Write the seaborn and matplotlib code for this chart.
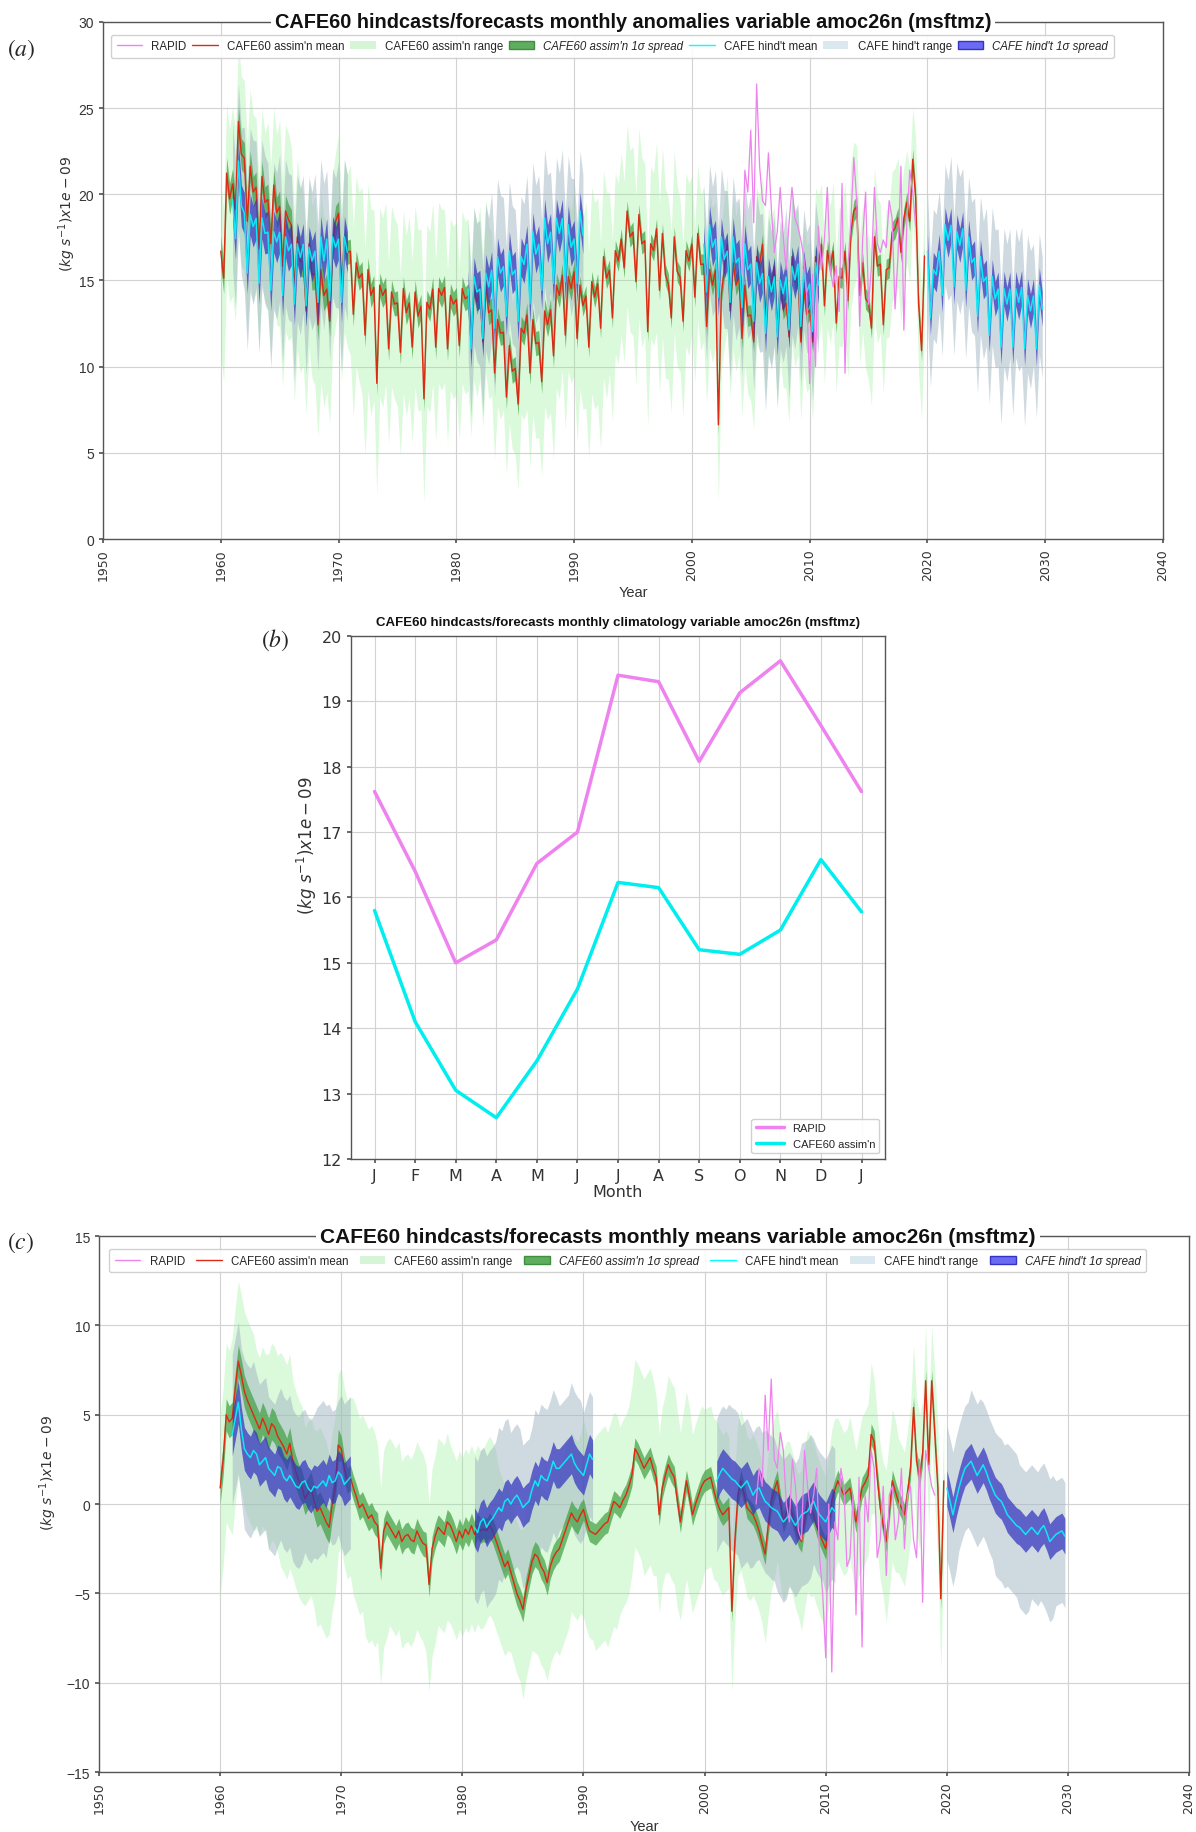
import numpy as np
import pandas as pd
import matplotlib
matplotlib.use("Agg")
import matplotlib.pyplot as plt
import seaborn as sns
from matplotlib.patches import Patch
from matplotlib.lines import Line2D

# ---- monthly climatology (panel b) ----
months = ["J", "F", "M", "A", "M", "J", "J", "A", "S", "O", "N", "D", "J"]
rapid_clim = [17.62, 16.40, 15.00, 15.35, 16.52, 17.00, 19.40, 19.30, 18.08, 19.13, 19.62, 18.63, 17.62]
cafe_clim = [15.80, 14.10, 13.05, 12.63, 13.50, 14.60, 16.23, 16.15, 15.20, 15.13, 15.50, 16.58, 15.78]

# ---- CAFE60 assimilation, quarterly anomalies (Jan, Apr, Jul, Oct) from 1960 ----
assim_start = 1960
assim_anom = [
    0.9, 2.5, 5.0, 4.6,   4.8, 6.5, 8.0, 7.2,   6.3, 5.8, 5.4, 5.0,   4.6, 4.2, 4.8, 4.4,   3.9, 4.5, 4.3, 3.8,
    3.5, 3.2, 2.8, 3.4,   2.4, 1.8, 1.3, 1.0,   0.3, 0.6, 0.9, 0.2,   -0.4, -0.2, -0.6, -1.0,   -1.3, 0.0, 0.9, 3.3,
    3.1, 2.0, 1.3, 1.5,   0.9, 0.4, -0.2, 0.0,   -0.4, -0.8, -0.6, -1.0,   -1.2, -3.6, -1.5, -1.0,   -1.3, -1.6, -1.9, -1.5,
    -2.1, -1.8, -1.7, -2.0,   -2.1, -1.5, -1.9, -2.2,   -2.3, -4.5, -2.5, -1.8,   -1.3, -1.5, -1.7, -1.0,   -1.2, -1.6, -2.1, -1.5,
    -1.9, -1.4, -1.7, -1.2,   -1.7, -1.2, -1.5, -1.4,   -1.5, -1.2, -1.5, -2.0,   -2.5, -3.0, -3.5, -3.2,   -3.8, -4.4, -5.0, -5.4,
    -5.9, -4.8, -4.0, -3.2,   -2.8, -3.0, -3.5, -3.8,   -4.4, -3.5, -3.0, -2.7,   -2.5, -2.0, -1.5, -1.0,   -0.5, -0.8, -1.0, -0.6,
    -0.3, -1.0, -1.5, -1.6,   -1.7, -1.5, -1.3, -1.1,   -1.0, -0.4, 0.15, 0.0,   -0.2, 0.2, 0.5, 1.0,   1.6, 3.1, 2.8, 2.4,
    2.0, 2.3, 2.6, 2.0,   1.5, -0.6, 0.9, 1.6,   2.2, 1.8, 1.5, 0.2,   -1.0, 0.2, 1.3, 0.4,   -0.6, 0.0, 0.5, 1.0,
    1.3, 1.4, 1.5, 0.8,   0.15, -0.3, -0.6, -0.4,   -0.2, -6.0, -2.0, 0.5,   1.3, 0.6, -0.2, -0.4,   -0.6, -1.0, -1.5, -2.2,
    -2.8, -1.2, 0.15, 0.8,   1.3, 0.1, -1.0, -0.5,   0.0, -0.6, -1.3, -1.8,   -2.1, -0.9, 0.15, -0.2,   -0.6, -1.2, -1.7, -2.1,
    -2.5, -1.2, 0.15, 0.8,   1.3, 0.9, 0.5, 0.7,   0.9, -0.1, -1.0, 0.0,   0.9, 1.2, 1.6, 3.9,   3.5, 1.5, -0.2, -1.2,
    -2.1, -0.4, 1.3, 0.7,   0.15, -0.2, -0.6, 0.6,   2.0, 5.4, 2.4, 1.5,   2.8, 6.9, 2.2, 6.9,   4.0, 1.0, -5.3, 1.3,
]
# yearly range above / below the ensemble mean
assim_rng_hi = [4.0, 4.5, 4.5, 4.0, 4.5, 5.0, 4.5, 4.0, 4.5, 4.0,
                4.5, 5.0, 5.0, 4.5, 5.0, 4.5, 5.0, 4.5, 5.0, 4.5,
                4.5, 4.5, 5.0, 4.5, 4.0, 4.5, 4.5, 5.0, 4.5, 4.5,
                5.0, 5.5, 5.0, 4.5, 5.0, 5.0, 4.5, 5.0, 5.0, 4.5,
                4.0, 4.5, 4.0, 4.0, 4.5, 4.0, 4.0, 3.5, 4.0, 4.0,
                4.0, 3.5, 4.0, 4.0, 3.5, 4.0, 3.5, 3.5, 3.0, 3.5]
assim_rng_lo = [6.0, 6.5, 6.5, 6.0, 6.5, 7.0, 6.5, 6.0, 6.5, 6.0,
                5.5, 6.0, 7.0, 6.5, 5.5, 6.0, 5.5, 6.0, 5.5, 5.5,
                5.5, 5.5, 5.0, 5.0, 4.5, 5.0, 5.5, 5.5, 6.0, 5.5,
                6.0, 6.5, 7.0, 6.0, 5.5, 6.0, 5.5, 6.0, 5.5, 5.5,
                5.0, 4.5, 4.5, 5.0, 4.5, 5.0, 4.5, 4.5, 5.0, 4.5,
                4.5, 4.5, 4.0, 4.5, 4.0, 4.5, 4.0, 4.0, 3.5, 4.0]
assim_sd = [0.9, 0.7, 0.7, 0.6, 0.6, 0.6]  # one value per decade

# ---- CAFE hindcasts, quarterly anomalies, 10-year segments ----
hind_starts = [1961, 1981, 2001, 2020]
hind_anom = [
    [3.9, 4.8, 5.7, 4.2, 3.1, 2.8, 2.6, 3.0, 2.8, 2.2, 2.4, 2.6, 2.0, 1.8, 1.6, 2.1, 2.0, 1.5, 1.3, 1.6,
     1.3, 1.0, 0.9, 1.2, 1.3, 0.9, 0.7, 1.0, 0.9, 1.1, 1.3, 1.0, 1.6, 1.2, 1.3, 1.8, 1.6, 1.1, 1.3, 1.5],
    [-1.3, -1.6, -1.0, -0.8, -1.3, -1.0, -0.8, -0.5, -0.2, -0.4, 0.15, 0.3, 0.0, 0.3, 0.5, 0.2, -0.2, 0.0, 0.15, 0.8,
     1.3, 1.0, 1.6, 1.4, 1.3, 1.8, 2.4, 2.0, 2.0, 2.2, 2.4, 2.6, 2.8, 2.3, 2.0, 1.8, 1.6, 2.2, 2.8, 2.5],
    [1.3, 1.7, 2.0, 1.8, 1.6, 1.4, 1.3, 1.1, 0.9, 1.1, 1.3, 0.9, 0.5, 0.8, 0.9, 0.5, 0.15, 0.0, -0.2, -0.3,
     -0.4, -0.7, -1.0, -0.8, -0.6, -0.9, -1.2, -0.9, -0.6, -0.5, -0.4, -0.1, 0.15, -0.3, -0.6, -0.8, -1.0, -0.6, -0.2, -0.4],
    [0.9, 0.2, -0.6, 0.2, 0.9, 1.5, 2.0, 2.2, 2.4, 2.0, 1.6, 1.9, 2.2, 1.8, 1.3, 0.9, 0.5, 0.3, 0.15, -0.2,
     -0.6, -0.8, -1.0, -1.2, -1.3, -1.5, -1.7, -1.5, -1.3, -1.5, -1.7, -1.4, -1.2, -1.6, -2.1, -1.9, -1.7, -1.6, -1.5, -1.8],
]
hind_rng_hi = [[4.5, 5.0, 4.5, 4.0, 4.5, 4.0, 4.0, 4.5, 4.0, 4.5],
               [4.0, 4.0, 4.5, 4.0, 3.5, 4.0, 4.0, 3.5, 4.0, 3.5],
               [3.5, 4.0, 3.5, 3.5, 4.0, 3.5, 3.5, 4.0, 3.5, 3.5],
               [3.5, 3.5, 4.0, 3.5, 3.5, 4.0, 3.5, 3.5, 3.5, 3.0]]
hind_rng_lo = [[4.0, 4.5, 4.0, 4.5, 4.0, 4.5, 4.0, 4.0, 3.5, 4.0],
               [4.0, 4.5, 4.0, 4.0, 4.5, 4.0, 4.0, 3.5, 4.0, 3.5],
               [4.0, 4.0, 4.5, 4.0, 4.0, 4.5, 4.0, 4.0, 3.5, 4.0],
               [4.0, 3.5, 4.0, 4.0, 4.5, 4.0, 4.5, 4.0, 4.5, 4.0]]
hind_sd = [1.2, 1.1, 1.1, 1.0]

# ---- RAPID observations, quarterly anomalies from 2004.25 ----
rapid_start = 2004.25
rapid_anom = [0.0, 2.0, 1.0,
              6.1, 3.0, 7.0, 2.5,   2.0, 4.0, 3.0, 0.0,   -1.0, 2.5, 1.0, -1.5,   -2.0, 3.0, 1.0, -0.5,
              0.5, 2.0, -3.0, -5.0,   -8.6, 0.0, -9.4, -1.0,   -2.0, 2.0, 1.0, -3.5,   -3.0, 0.5, -6.2, 1.5,
              -8.0, 0.5, -1.0, 3.0,   2.0, -3.0, -2.0, 1.0,   -4.0, 0.5, 1.0, -2.0,   -1.0, 2.0, -2.5, 0.5,
              1.0, -2.0, -3.0, 2.5,   -5.5, 3.0, 2.0, 1.0,   0.5]

# ---- colours ----
c_rapid = "violet"
c_amean = "#dd2a12"
c_arng = "lightgreen"
c_asd = "#3f9f3f"
c_hmean = "cyan"
c_hrng = "#9fb5c3"
c_hsd = "#2f2fbf"

sns.set_theme(style="whitegrid", rc={"grid.color": "#d2d2d2", "grid.linewidth": 0.8,
                                     "axes.edgecolor": "#555555", "axes.linewidth": 1.0,
                                     "xtick.bottom": True, "ytick.left": True})
plt.rcParams['font.family'] = ['Liberation Sans', 'DejaVu Sans']
plt.rcParams['mathtext.fontset'] = 'dejavusans'


def clim_at(t, clim):
    idx = np.rint((t - np.floor(t)) * 12).astype(int) % 12
    return np.asarray(clim)[idx]


def draw_series(ax, with_clim):
    # assimilation
    ta = assim_start + 0.25 * np.arange(len(assim_anom))
    ma = np.array(assim_anom)
    if with_clim:
        ma = ma + clim_at(ta, cafe_clim)
    ax.fill_between(ta, ma - np.repeat(assim_rng_lo, 4), ma + np.repeat(assim_rng_hi, 4),
                    color=c_arng, alpha=0.32, lw=0, zorder=1)
    # hindcast ranges
    hsegs = []
    for k, s in enumerate(hind_starts):
        th = s + 0.25 * np.arange(len(hind_anom[k]))
        mh = np.array(hind_anom[k])
        if with_clim:
            mh = mh + clim_at(th, cafe_clim)
        hsegs.append((th, mh))
        ax.fill_between(th, mh - np.repeat(hind_rng_lo[k], 4), mh + np.repeat(hind_rng_hi[k], 4),
                        color=c_hrng, alpha=0.5, lw=0, zorder=1.2)
    sda = np.repeat(assim_sd, 40)
    ax.fill_between(ta, ma - sda, ma + sda, color=c_asd, alpha=0.7, lw=0, zorder=1.5)
    sns.lineplot(x=ta, y=ma, ax=ax, color=c_amean, lw=1.0, estimator=None, sort=False,
                 legend=False, zorder=2)
    for k, (th, mh) in enumerate(hsegs):
        ax.fill_between(th, mh - hind_sd[k], mh + hind_sd[k], color=c_hsd, alpha=0.7, lw=0, zorder=2.2)
        sns.lineplot(x=th, y=mh, ax=ax, color=c_hmean, lw=1.1, alpha=0.85, estimator=None,
                     sort=False, legend=False, zorder=2.4)
    # RAPID
    tr = rapid_start + 0.25 * np.arange(len(rapid_anom))
    mr = np.array(rapid_anom)
    if with_clim:
        mr = mr + clim_at(tr, rapid_clim)
    sns.lineplot(x=tr, y=mr, ax=ax, color=c_rapid, lw=0.9, estimator=None, sort=False,
                 legend=False, zorder=2.6)


def style_series_axes(ax, ylim, title, title_x, fsize, leg_anchor, ylab_pos):
    ax.set_xlim(1950, 2040)
    ax.set_ylim(*ylim)
    ax.set_xticks(range(1950, 2041, 10))
    ax.set_xticklabels([str(y) for y in range(1950, 2041, 10)], rotation=90,
                       fontfamily='DejaVu Sans', fontsize=9, color='#333333')
    ax.set_yticks(range(ylim[0], ylim[1] + 1, 5))
    ax.tick_params(axis='y', labelsize=10, colors='#333333')
    ax.tick_params(length=3, color='#555555')
    ax.set_xlabel("Year", fontsize=10.5, color='#333333', labelpad=4)
    ax.set_ylabel(r"$(kg\ s^{-1})x1e-09$", fontsize=10, color='#333333')
    ax.yaxis.set_label_coords(*ylab_pos)
    ax.text(title_x, 1.0, title, transform=ax.transAxes, ha='center', va='center',
            fontsize=fsize, fontweight='bold', color='#111111', zorder=10, clip_on=False,
            bbox=dict(facecolor='white', edgecolor='none', pad=3))
    handles = [Line2D([], [], color=c_rapid, lw=1),
               Line2D([], [], color=c_amean, lw=1),
               Patch(facecolor='#d6f5d6', edgecolor='none'),
               Patch(facecolor='#5fae5f', edgecolor='#3f8f3f'),
               Line2D([], [], color=c_hmean, lw=1),
               Patch(facecolor='#dbe8ef', edgecolor='none'),
               Patch(facecolor='#6a6af2', edgecolor='#3434c4')]
    labels = ["RAPID", "CAFE60 assim'n mean", "CAFE60 assim'n range", "CAFE60 assim'n 1σ spread",
              "CAFE hind't mean", "CAFE hind't range", "CAFE hind't 1σ spread"]
    leg = ax.legend(handles, labels, loc='upper left', bbox_to_anchor=leg_anchor, mode='expand',
                    ncol=7, fontsize=8.3, frameon=True, framealpha=0.9, edgecolor='#cccccc',
                    handlelength=2.2, borderpad=0.5, handletextpad=0.8)
    leg.set_zorder(20)
    for i in (3, 6):
        leg.get_texts()[i].set_style('italic')


fig = plt.figure(figsize=(11.96, 18.33), dpi=100)

# panel (a)
ax_a = fig.add_axes([0.0861, 0.7054, 0.8863, 0.2821])
draw_series(ax_a, True)
style_series_axes(ax_a, (0, 30), "CAFE60 hindcasts/forecasts monthly anomalies variable amoc26n (msftmz)",
                  0.5, 14.3, (0.002, 0.9865, 0.957, 0), (-0.024, 0.63))

# panel (b)
ax_b = fig.add_axes([0.2935, 0.3672, 0.4465, 0.2853])
clim_df = pd.DataFrame({"m": np.arange(13), "RAPID": rapid_clim, "CAFE60 assim'n": cafe_clim})
sns.lineplot(data=clim_df, x="m", y="RAPID", ax=ax_b, color="violet", lw=2.5, label="RAPID")
sns.lineplot(data=clim_df, x="m", y="CAFE60 assim'n", ax=ax_b, color="#00eeee", lw=2.5,
             label="CAFE60 assim'n")
ax_b.set_xlim(-0.58, 12.58)
ax_b.set_ylim(12, 20)
ax_b.set_xticks(range(13))
ax_b.set_xticklabels(months, fontfamily='DejaVu Sans', fontsize=11.5, color='#333333')
ax_b.set_yticks(range(12, 21))
ax_b.tick_params(axis='y', labelsize=11.5, colors='#333333')
for t in ax_b.get_yticklabels():
    t.set_fontfamily('DejaVu Sans')
ax_b.tick_params(length=3, color='#555555')
ax_b.set_xlabel("Month", fontsize=11.5, fontfamily='DejaVu Sans', color='#333333', labelpad=1)
ax_b.set_ylabel(r"$(kg\ s^{-1})x1e-09$", fontsize=12, color='#333333')
ax_b.yaxis.set_label_coords(-0.06, 0.60)
ax_b.set_title("CAFE60 hindcasts/forecasts monthly climatology variable amoc26n (msftmz)",
               fontsize=9.5, fontweight='bold', fontfamily='Liberation Sans', color='#111111', pad=8)
ax_b.legend(loc='lower right', fontsize=8, frameon=True, framealpha=0.9, edgecolor='#cccccc',
            handlelength=2.5)

# panel (c)
ax_c = fig.add_axes([0.0828, 0.0327, 0.9114, 0.2924])
draw_series(ax_c, False)
style_series_axes(ax_c, (-15, 15), "CAFE60 hindcasts/forecasts monthly means variable amoc26n (msftmz)",
                  0.531, 15, (0.004, 0.987, 0.962, 0), (-0.037, 0.56))

# panel letters
for lab, x, y in [("(a)", 21, 50), ("(b)", 275, 640), ("(c)", 21, 1243)]:
    fig.text(x / 1196, 1 - y / 1833, "$" + lab + "$", fontsize=17, ha='center', va='center',
             math_fontfamily='stix')

fig.savefig("out.png", dpi=100)
